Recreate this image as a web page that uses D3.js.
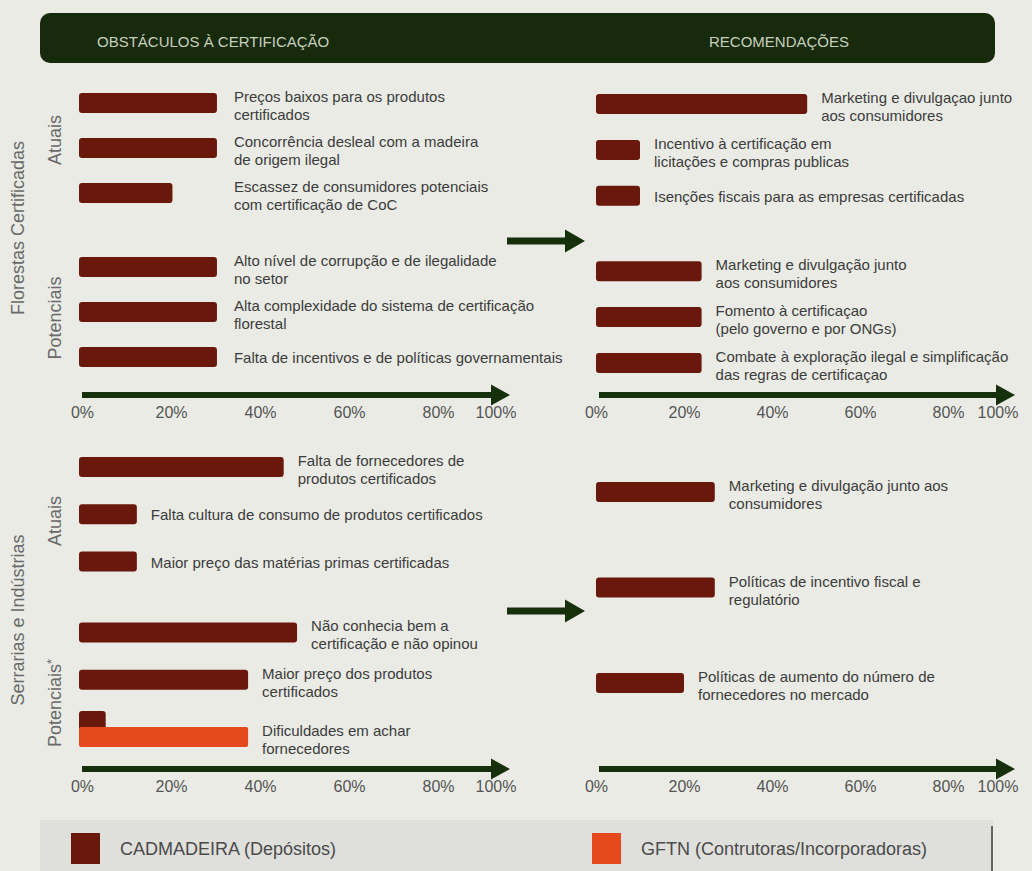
<!DOCTYPE html>
<html>
<head>
<meta charset="utf-8">
<script src="https://cdn.jsdelivr.net/npm/d3@7"></script>
<style>
  html, body { margin: 0; padding: 0; background: #e9ebe4; }
  svg { display: block; }
  text { font-family: "Liberation Sans", Arial, sans-serif; }
</style>
</head>
<body>
<svg id="chart" width="1032" height="871"></svg>
<script>
// ---------- data ----------
const seriesNames = ["CADMADEIRA (Depósitos)", "GFTN (Contrutoras/Incorporadoras)"];
const tickValues = [0, 20, 40, 60, 80, 100];
const headerTitles = ["OBSTÁCULOS À CERTIFICAÇÃO", "RECOMENDAÇÕES"];
const sectionNames = ["Florestas Certificadas", "Serrarias e Indústrias"];
const forestGroupNames = ["Atuais", "Potenciais"];
const millGroupNames = ["Atuais", "Potenciais"];
const millGroupNote = "*";

// Florestas certificadas – obstáculos
const forestObstacleLabels = [
  ["Preços baixos para os produtos", "certificados"],
  ["Concorrência desleal com a madeira", "de origem ilegal"],
  ["Escassez de consumidores potenciais", "com certificação de CoC"],
  ["Alto nível de corrupção e de ilegalidade", "no setor"],
  ["Alta complexidade do sistema de certificação", "florestal"],
  ["Falta de incentivos e de políticas governamentais"]
];
const forestObstacleGroups = [0, 0, 0, 1, 1, 1];
const forestObstacleCad = [31, 31, 21, 31, 31, 31];

// Florestas certificadas – recomendações
const forestRecLabels = [
  ["Marketing e divulgaçao junto", "aos consumidores"],
  ["Incentivo à certificação em", "licitações e compras publicas"],
  ["Isenções fiscais para as empresas certificadas"],
  ["Marketing e divulgação junto", "aos consumidores"],
  ["Fomento à certificaçao", "(pelo governo e por ONGs)"],
  ["Combate à exploração ilegal e simplificação", "das regras de certificaçao"]
];
const forestRecGroups = [0, 0, 0, 1, 1, 1];
const forestRecCad = [48, 10, 10, 24, 24, 24];

// Serrarias e indústrias – obstáculos
const millObstacleLabels = [
  ["Falta de fornecedores de", "produtos certificados"],
  ["Falta cultura de consumo de produtos certificados"],
  ["Maior preço das matérias primas certificadas"],
  ["Não conhecia bem a", "certificação e não opinou"],
  ["Maior preço dos produtos", "certificados"],
  ["Dificuldades em achar", "fornecedores"]
];
const millObstacleGroups = [0, 0, 0, 1, 1, 1];
const millObstacleCad = [46, 13, 13, 49, 38, 6];
const millObstacleGftn = [null, null, null, null, null, 38];

// Serrarias e indústrias – recomendações
const millRecLabels = [
  ["Marketing e divulgação junto aos", "consumidores"],
  ["Políticas de incentivo fiscal e", "regulatório"],
  ["Políticas de aumento do número de", "fornecedores no mercado"]
];
const millRecGroups = [0, 0, 0];
const millRecCad = [27, 27, 20];

// ---------- styling ----------
const colors = { cad: "#6a170c", gftn: "#e6491b", green: "#17300c",
                 header: "#172a0b", headerText: "#c9cfbf", label: "#3c3c3c",
                 tick: "#555555", side: "#6a6a6a" };

const svg = d3.select("#chart");

// Header band
svg.append("rect").attr("x", 40).attr("y", 13).attr("width", 955).attr("height", 50)
  .attr("rx", 10).attr("fill", colors.header);
svg.append("text").attr("x", 97).attr("y", 46.5).attr("font-size", 15)
  .attr("fill", colors.headerText).text(headerTitles[0]);
svg.append("text").attr("x", 779).attr("y", 46.5).attr("font-size", 15)
  .attr("text-anchor", "middle").attr("fill", colors.headerText).text(headerTitles[1]);

// Block arrow: shaft + triangular head
function arrow(g, x0, x1, y, shaft, headLen, headH) {
  const p = d3.path();
  p.moveTo(x0, y - shaft / 2);
  p.lineTo(x1 - headLen, y - shaft / 2);
  p.lineTo(x1 - headLen, y - headH / 2);
  p.lineTo(x1, y);
  p.lineTo(x1 - headLen, y + headH / 2);
  p.lineTo(x1 - headLen, y + shaft / 2);
  p.lineTo(x0, y + shaft / 2);
  p.closePath();
  g.append("path").attr("d", p.toString()).attr("fill", colors.green);
}

function panel(cfg) {
  const g = svg.append("g");
  const x = d3.scaleLinear().domain([0, 100]).range(cfg.xRange);
  const nRows = cfg.cad.length;
  const slot = (i) => i + cfg.groups[i] * cfg.groupGap;
  const y = d3.scaleLinear().domain([0, slot(nRows - 1)]).range(cfg.yRange);
  const barH = 20;

  const rows = cfg.cad.map((v, i) => ({
    i, cad: v, gftn: cfg.gftn ? cfg.gftn[i] : null, label: cfg.labels[i], c: y(slot(i))
  }));

  // bars – first series
  g.selectAll("rect.cad").data(rows).join("rect").attr("class", "cad")
    .attr("x", x(0))
    .attr("y", d => d.gftn != null ? d.c - 16 : d.c - barH / 2)
    .attr("width", d => x(d.cad) - x(0))
    .attr("height", barH).attr("rx", 3).attr("fill", colors.cad);

  // bars – second series
  g.selectAll("rect.gftn").data(rows.filter(d => d.gftn != null)).join("rect").attr("class", "gftn")
    .attr("x", x(0)).attr("y", d => d.c)
    .attr("width", d => x(d.gftn) - x(0))
    .attr("height", barH).attr("rx", 2).attr("fill", colors.gftn);

  // category labels
  const maxVal = d3.max(rows, d => Math.max(d.cad, d.gftn || 0));
  const lbl = g.selectAll("text.lbl").data(rows).join("text").attr("class", "lbl")
    .attr("font-size", 15).attr("fill", colors.label)
    .attr("x", d => cfg.alignLabels ? x(maxVal) + 17 : x(Math.max(d.cad, d.gftn || 0)) + 14)
    .attr("y", d => {
      const c = d.gftn != null ? d.c + 10 : d.c;
      return d.label.length > 1 ? c - 1 : c + 6;
    });
  lbl.selectAll("tspan").data(d => d.label.map((t, k) => ({ t, k }))).join("tspan")
    .attr("x", function () { return d3.select(this.parentNode).attr("x"); })
    .attr("dy", d => d.k === 0 ? 0 : 18)
    .text(d => d.t);

  // axis arrow and percentage ticks
  arrow(g, x(0) + 3, cfg.arrowEnd, cfg.axisY, 6, 19, 21);
  const axis = d3.axisBottom(x).tickValues(tickValues).tickFormat(d => d + "%")
    .tickSize(0).tickPadding(0);
  const ag = g.append("g").attr("transform", `translate(0,${cfg.axisY + 12})`).call(axis);
  ag.select(".domain").remove();
  ag.selectAll(".tick").filter(d => d === 100)
    .attr("transform", `translate(${cfg.arrowEnd - 17},0)`);
  ag.selectAll("text").attr("font-size", 16).attr("fill", colors.tick)
    .attr("font-family", "Liberation Sans, Arial, sans-serif")
    .attr("dx", cfg.tickShift).attr("dy", "0.71em");
}

// Florestas certificadas
panel({ xRange: [79, 524], yRange: [103, 357], groupGap: 0.64, groups: forestObstacleGroups,
        cad: forestObstacleCad, labels: forestObstacleLabels, alignLabels: true,
        axisY: 395, arrowEnd: 510, tickShift: 3 });
panel({ xRange: [596, 1036], yRange: [104, 363], groupGap: 0.64, groups: forestRecGroups,
        cad: forestRecCad, labels: forestRecLabels,
        axisY: 395, arrowEnd: 1015, tickShift: 0 });
// Serrarias e indústrias
panel({ xRange: [79, 524], yRange: [467, 727], groupGap: 0.5, groups: millObstacleGroups,
        cad: millObstacleCad, gftn: millObstacleGftn, labels: millObstacleLabels,
        axisY: 769, arrowEnd: 510, tickShift: 3 });
panel({ xRange: [596, 1036], yRange: [492, 683], groupGap: 0, groups: millRecGroups,
        cad: millRecCad, labels: millRecLabels,
        axisY: 769, arrowEnd: 1015, tickShift: 0 });

// arrows linking obstacles to recommendations
const links = svg.append("g");
arrow(links, 507, 585, 241, 7, 20, 23);
arrow(links, 507, 585, 611, 7, 20, 23);

// rotated section / group labels
function sideLabel(txt, cx, cy, size, note) {
  const t = svg.append("text").attr("transform", `translate(${cx},${cy}) rotate(-90)`)
    .attr("text-anchor", "middle").attr("font-size", size).attr("fill", colors.side)
    .attr("dy", "0.35em").text(txt);
  if (note) t.append("tspan").attr("font-size", size * 0.7).attr("dy", "-0.45em").text(note);
}
sideLabel(sectionNames[0], 18, 228, 18);
sideLabel(sectionNames[1], 18, 620, 18);
sideLabel(forestGroupNames[0], 55, 140, 18);
sideLabel(forestGroupNames[1], 55, 318, 18);
sideLabel(millGroupNames[0], 55, 521, 18);
sideLabel(millGroupNames[1], 55, 703, 18, millGroupNote);

// legend
const leg = svg.append("g");
leg.append("rect").attr("x", 40).attr("y", 820).attr("width", 953).attr("height", 60)
  .attr("fill", "#dfe0db");
leg.append("line").attr("x1", 992).attr("x2", 992).attr("y1", 826).attr("y2", 871)
  .attr("stroke", "#3a3a3a").attr("stroke-width", 1.5);
const legendItems = [
  { name: seriesNames[0], color: colors.cad, x: 71 },
  { name: seriesNames[1], color: colors.gftn, x: 592 }
];
leg.selectAll("rect.sw").data(legendItems).join("rect").attr("class", "sw")
  .attr("x", d => d.x).attr("y", 833).attr("width", 29).attr("height", 31)
  .attr("fill", d => d.color);
leg.selectAll("text.lg").data(legendItems).join("text").attr("class", "lg")
  .attr("x", d => d.x + 49).attr("y", 855).attr("font-size", 18).attr("fill", "#4a4a4a")
  .text(d => d.name);
</script>
</body>
</html>
